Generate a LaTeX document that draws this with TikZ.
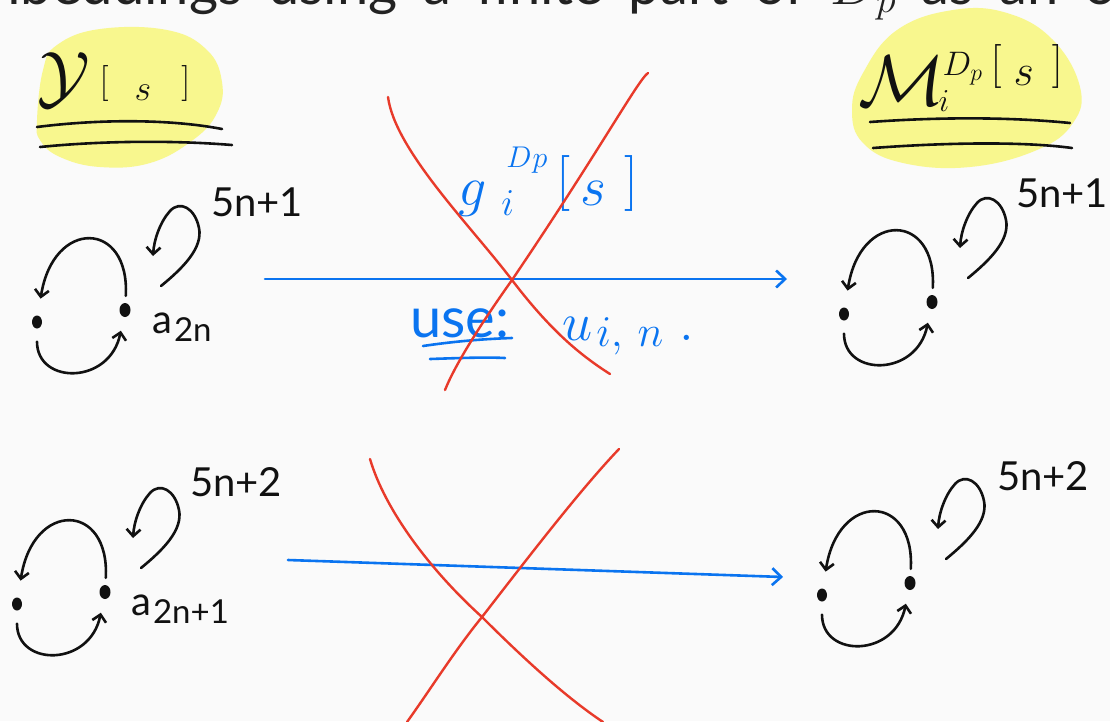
\RequirePackage{fix-cm}
\documentclass[tikz,border=0pt]{standalone}
\usepackage[no-math]{fontspec}
\setmainfont{Lato}
\usetikzlibrary{arrows.meta,shapes.geometric}
\definecolor{bgc}{HTML}{FAFAFA}
\definecolor{hl}{HTML}{F8F78E}
\definecolor{penblue}{HTML}{0A74F0}
\definecolor{penred}{HTML}{E83A2A}
\definecolor{ink}{HTML}{111111}
\definecolor{headc}{HTML}{222222}
\newcommand\fsz[1]{\fontsize{#1}{#1}\selectfont}
\tikzset{
  inkline/.style={draw=ink,line width=2.6pt},
  inkarrow/.style={inkline,-{Straight Barb[length=7pt,width=14pt]}},
  bluearrow/.style={draw=penblue,line width=2.6pt,-{Straight Barb[length=9pt,width=17pt]}},
  blueline/.style={draw=penblue,line width=2.6pt},
  redline/.style={draw=penred,line width=2.4pt},
  dot/.style={ellipse,fill=ink,inner sep=0pt,minimum width=11pt,minimum height=14pt},
  lbl/.style={inner sep=0pt,text=ink,font=\fsz{40}},
  bluetext/.style={inner sep=0pt,text=penblue},
  pics/loopgraph/.style={code={
    \node[dot] (-r) at (0,0) {};
    \node[dot,minimum width=10pt,minimum height=13pt] (-l) at (-88,12) {};
    \draw[inkarrow,shorten <=7pt,shorten >=17pt] (-r) .. controls +(5,-90) and +(16,-104) .. (-l);
    \draw[inkarrow,shorten <=13pt,shorten >=14pt] (-l) .. controls +(0,63) and +(-15,75) .. (-r);
    \coordinate (-s1) at (36,-24);
    \coordinate (-s2) at (28,-54);
    \draw[inkarrow] (-s1) .. controls (58,-42) and (78,-62) .. (74,-82)
       .. controls (70,-102) and (55,-110) .. (45,-99)
       .. controls (35,-88) and (29,-70) .. (-s2);
  }}
}
\begin{document}
\begin{tikzpicture}[x=1pt,y=-1pt,line cap=round,line join=round]
\fill[bgc] (0,0) rectangle (1110,721);
\useasboundingbox (0,0) rectangle (1110,721);

% header (cut off at top)
\node[anchor=base west,inner sep=0pt,text=headc,font=\fontsize{56}{60}\selectfont] (hdr) at (268,4)
  {\spaceskip=0.46em\llap{Embeddings }using a finite part of $D_p$ as an oracle};

% highlight blobs
\fill[hl] plot[smooth cycle,tension=0.7] coordinates {(43,70) (57,45) (100,29) (167,30) (207,50) (222,82) (217,113) (193,140) (150,163) (100,167) (60,157) (40,140) (37,120)};
\fill[hl] plot[smooth cycle,tension=0.7] coordinates {(863,73) (897,30) (953,10) (1007,13) (1053,40) (1080,87) (1073,123) (1037,150) (970,167) (903,163) (863,143) (852,110)};

% titles
\node[anchor=base west,inner sep=0pt,text=ink] (ys) at (37,100)
  {\fsz{70}$\mathcal{Y}$\hspace{10pt}\fsz{36}\raisebox{8pt}{$[$}\hspace{26pt}$s$\hspace{30pt}\raisebox{8pt}{$]$}};
\node[anchor=base west,inner sep=0pt,text=ink] (ms) at (858,105)
  {\fsz{72}$\mathcal{M}$\hspace{-6pt}\rlap{\raisebox{-6pt}{\fsz{32}$i$}}\hspace{4pt}\raisebox{30pt}{\fsz{34}$D_p$}\hspace{8pt}\fsz{44}\raisebox{28pt}{$[$}\hspace{12pt}\raisebox{20pt}{$s$}\hspace{18pt}\raisebox{28pt}{$]$}};
\draw[inkline] (37,127) .. controls (100,119) and (170,119) .. (222,129);
\draw[inkline] (40,147) .. controls (100,141) and (170,140) .. (232,145);
\draw[inkline] (870,122) .. controls (940,117) and (1010,117) .. (1070,123);
\draw[inkline] (873,148) .. controls (940,143) and (1020,141) .. (1072,148);

% graphs
\pic (tl) at (125,310) {loopgraph};
\pic (tr) at (932,302) {loopgraph};
\pic (bl) at (105,592) {loopgraph};
\pic (br) at (910,583) {loopgraph};

% labels
\node[lbl,anchor=base west] (tla) at (152,333) {a\raisebox{-8pt}{\fsz{33}\hspace{2pt}2n}};
\node[lbl,anchor=base west] (tlk) at (211,216) {5n+1};
\node[lbl,anchor=base west] (trk) at (1016,207) {5n+1};
\node[lbl,anchor=base west] (blk) at (190,496) {5n+2};
\node[lbl,anchor=base west] (bla) at (131,615) {a\raisebox{-8pt}{\fsz{33}\hspace{2pt}2n+1}};
\node[lbl,anchor=base west] (brk) at (997,490) {5n+2};

% blue arrows and text
\coordinate (ta1) at (265,279);
\coordinate (ta2) at (787,279);
\draw[bluearrow] (ta1) -- (ta2);
\coordinate (ba1) at (288,560);
\coordinate (ba2) at (783,577);
\draw[bluearrow] (ba1) -- (ba2);

\node[bluetext,anchor=base west] (gi) at (458,205)
  {\fsz{56}$g$\hspace{15pt}\rlap{\raisebox{-10pt}{\fsz{38}$i$}}\hspace{5pt}\raisebox{38pt}{\fsz{30}$D$\hspace{1pt}$p$}\hspace{9pt}\fsz{56}\raisebox{8pt}{$[$}\hspace{10pt}$s$\hspace{18pt}\raisebox{8pt}{$]$}};
\node[bluetext,anchor=base west,font=\fsz{56}] (use) at (410,337) {use:};
\node[bluetext,anchor=base west] (uin) at (562,340)
  {\fsz{54}$u$\hspace{4pt}\raisebox{-6pt}{\fsz{44}$i,\,n$}\hspace{16pt}\fsz{54}$.$};
\draw[blueline] (423,346) .. controls (450,342) and (480,339) .. (512,338);
\draw[blueline] (430,359) .. controls (460,358) and (485,357) .. (505,358);

% red crosses
\draw[redline] (388,97) .. controls (395,150) and (470,225) .. (512,280) .. controls (550,330) and (580,355) .. (610,374);
\draw[redline] (648,73) .. controls (638,80) and (600,150) .. (512,280) .. controls (480,325) and (455,365) .. (445,390);
\draw[redline] (370,459) .. controls (385,510) and (430,570) .. (482,617) .. controls (530,665) and (570,700) .. (603,722);
\draw[redline] (619,449) .. controls (580,490) and (530,555) .. (482,617) .. controls (455,650) and (430,690) .. (407,722);
\end{tikzpicture}
\end{document}
